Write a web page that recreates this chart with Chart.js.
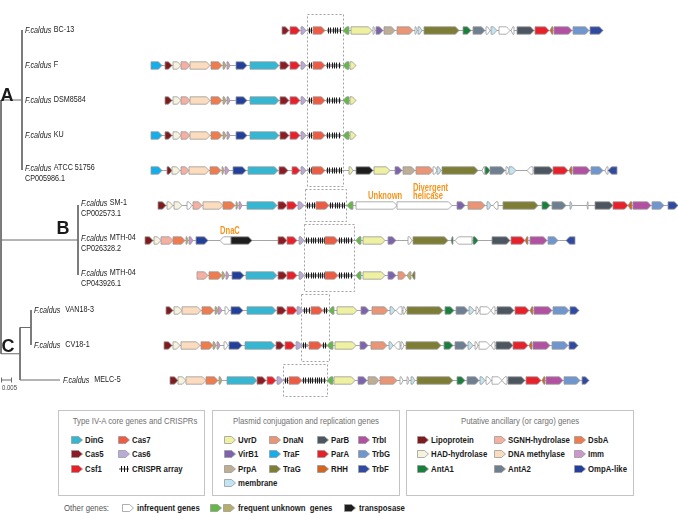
<!DOCTYPE html>
<html lang="en">
<head>
<meta charset="UTF-8">
<title>Type IV-A CRISPR loci in F. caldus</title>
<script src="https://cdn.jsdelivr.net/npm/chart.js"></script>
<style>
  body { margin: 0; background: #fff; font-family: 'Liberation Sans', Arial, sans-serif; }
  #wrap { position: relative; width: 678px; height: 514px; overflow: hidden; }
  #loci { position: absolute; left: 0; top: 0; }
  .lbox { position: absolute; top: 410px; height: 86px; border: 1px solid #c4c4c4; box-sizing: border-box; background: #fff; }
  .ltitle { position: absolute; top: 4px; left: 0; right: 0; text-align: center; font-size: 9.5px; color: #707070; white-space: nowrap; }
  .ltitle span { display: inline-block; transform: scaleX(0.82); transform-origin: center; }
  .item { position: absolute; height: 10px; line-height: 10px; font-size: 9.5px; font-weight: bold; color: #1b1b1b; white-space: nowrap; }
  .item svg { position: absolute; left: 0; top: 1px; }
  .nar { position: absolute; top: 0; display: inline-block; transform: scaleX(0.82); transform-origin: left center; white-space: nowrap; }
  .item .nar { left: 14px; }
  .other { position: absolute; top: 503px; height: 10px; line-height: 10px; font-size: 9.5px; white-space: nowrap; }
</style>
</head>
<body>
<div id="wrap">
  <canvas id="loci" width="678" height="400"></canvas>
  <div id="legend"></div>
</div>

<script>
  // tree leaves (top to bottom)
  const strains = ['BC-13', 'F', 'DSM8584', 'KU', 'ATCC 51756', 'SM-1', 'MTH-04', 'MTH-04', 'VAN18-3', 'CV18-1', 'MELC-5'];
  const accessions = ['', '', '', '', 'CP005986.1', 'CP002573.1', 'CP026328.2', 'CP043926.1', '', '', ''];
  const leafClade = ['A', 'A', 'A', 'A', 'A', 'B', 'B', 'B', 'C1', 'C1', 'C'];
  const leafDepth = [0.0105, 0.0105, 0.0105, 0.0105, 0.0105, 0.0385, 0.0385, 0.0385, 0.015, 0.015, 0.0295];

  // internal nodes
  const cladeIds = ['root', 'A', 'B', 'C', 'C1'];
  const cladeParent = [null, 'root', 'root', 'root', 'C'];
  const cladeDepth = [0, 0.0105, 0.0385, 0.0095, 0.015];
  const cladeLetters = ['', 'A', 'B', 'C', ''];
  const scaleBar = 0.005;

  // loci: [start kb, end kb, gene type, strand]
  const genesBC13 = [[28.2,28.9,'cas5'],[29.0,30.0,'csf1'],[30.1,30.6,'cas6'],[30.8,31.2,'crispr'],[31.3,32.5,'cas7'],[32.7,34.1,'crispr'],[34.3,34.9,'fuG',-1],[35.1,37.2,'uvrD'],[37.3,37.5,'inf'],[37.6,38.3,'virB1'],[38.4,39.5,'prpA'],[39.7,41.3,'dnaN'],[41.5,41.7,'inf'],[41.8,42.2,'mem'],[42.4,45.9,'traG'],[46.3,47.1,'antA1'],[47.3,48.5,'antA2'],[48.6,49.0,'inf'],[49.1,49.7,'mem'],[49.9,51.0,'inf'],[51.1,51.4,'inf',-1],[51.7,53.4,'parB'],[53.5,54.9,'parA'],[55.0,55.3,'rhh',-1],[55.4,57.2,'trbI'],[57.3,58.9,'trbG'],[59.0,60.3,'trbF']];
  const genesF = [[15.1,16.2,'traF'],[16.5,17.2,'lipo'],[17.3,18.1,'had'],[18.1,19.0,'sgnh'],[19.0,21.0,'dnaMet'],[21.1,22.2,'dsbA'],[22.3,22.6,'fuT'],[22.7,23.0,'imm'],[23.6,24.7,'ompA'],[25.0,27.9,'dinG'],[28.0,28.9,'cas5'],[29.0,30.0,'csf1'],[30.1,30.6,'cas6'],[30.8,31.2,'crispr'],[31.3,32.5,'cas7'],[32.6,34.1,'crispr'],[34.3,34.9,'fuG',-1],[35.0,35.6,'uvrD']];
  const genesDSM8584 = [[16.5,17.2,'lipo'],[17.3,18.1,'had'],[18.1,19.0,'sgnh'],[19.0,21.0,'dnaMet'],[21.1,22.2,'dsbA'],[22.3,22.6,'fuT'],[22.7,23.0,'imm'],[23.6,24.7,'ompA'],[25.0,27.9,'dinG'],[28.0,28.9,'cas5'],[29.0,30.0,'csf1'],[30.1,30.6,'cas6'],[30.8,31.2,'crispr'],[31.3,32.5,'cas7'],[32.6,34.1,'crispr'],[34.3,34.9,'fuG',-1],[35.0,35.6,'uvrD']];
  const genesKU = [[15.1,16.2,'traF'],[16.5,17.2,'lipo'],[17.3,18.1,'had'],[18.1,19.0,'sgnh'],[19.0,21.0,'dnaMet'],[21.1,22.2,'dsbA'],[22.3,22.6,'fuT'],[22.7,23.0,'imm'],[23.6,24.7,'ompA'],[25.0,27.9,'dinG'],[28.0,28.9,'cas5'],[29.0,30.0,'csf1'],[30.1,30.6,'cas6'],[30.8,31.2,'crispr'],[31.3,32.5,'cas7'],[32.6,34.1,'crispr'],[34.3,34.9,'fuG',-1],[35.0,35.6,'uvrD']];
  const genesATCC = [[15.1,16.2,'traF'],[16.7,17.2,'lipo'],[17.2,18.0,'had'],[18.1,18.9,'sgnh'],[18.9,20.9,'dnaMet'],[21.0,22.1,'dsbA'],[22.2,22.4,'fuT'],[22.5,22.9,'imm'],[23.3,24.6,'ompA'],[24.8,27.8,'dinG'],[27.9,28.8,'cas5'],[29.2,30.0,'csf1'],[30.1,30.6,'cas6'],[30.8,31.2,'crispr'],[31.2,32.5,'cas7'],[32.6,34.2,'crispr'],[34.9,35.3,'uvrD'],[35.6,37.3,'trans'],[37.4,39.0,'uvrD'],[39.5,40.2,'virB1'],[40.3,41.5,'prpA'],[41.6,43.3,'dnaN'],[43.3,43.7,'inf'],[43.7,44.1,'mem'],[44.2,47.8,'traG'],[48.2,48.5,'inf',-1],[48.5,49.0,'antA1'],[49.0,50.5,'antA2'],[50.6,50.9,'inf'],[50.9,51.6,'mem'],[52.7,53.3,'inf',-1],[53.4,55.3,'parB'],[55.3,56.8,'parA'],[56.9,57.2,'rhh',-1],[57.3,59.0,'trbI'],[59.1,60.3,'trbG'],[60.5,60.8,'inf',-1],[60.8,61.7,'trbF',-1]];
  const genesSM1 = [[15.8,16.6,'lipo'],[16.7,17.3,'had'],[17.4,18.2,'had'],[18.7,19.2,'inf'],[19.3,20.2,'sgnh'],[20.3,22.3,'dnaMet'],[22.3,23.5,'dsbA'],[23.6,23.8,'fuT'],[23.9,24.2,'imm'],[24.7,27.7,'dinG'],[27.8,28.7,'cas5'],[28.7,29.7,'csf1'],[29.8,30.4,'cas6'],[30.6,31.6,'crispr'],[31.6,32.9,'cas7'],[32.9,34.5,'crispr'],[34.7,35.3,'fuG',-1],[35.6,39.7,'inf'],[39.7,45.2,'inf'],[45.7,46.5,'virB1'],[46.8,48.5,'dnaN'],[48.7,49.1,'mem'],[49.3,49.8,'inf',-1],[50.3,53.8,'traG'],[54.2,55.0,'antA1'],[55.2,56.6,'antA2'],[57.0,57.2,'mem'],[58.7,58.8,'inf',-1],[59.5,61.3,'parB'],[61.3,62.8,'parA'],[62.8,63.2,'rhh',-1],[63.3,65.1,'trbI'],[65.2,66.4,'trbG'],[66.8,67.8,'trbF']];
  const genesMTH04a = [[14.5,15.3,'lipo'],[15.4,16.1,'had'],[16.1,17.3,'sgnh'],[17.3,18.5,'dsbA'],[18.6,18.8,'fuT'],[18.9,19.3,'imm'],[19.6,20.8,'ompA'],[22.0,23.1,'inf',-1],[23.1,25.2,'trans'],[27.8,28.7,'cas5'],[28.7,29.7,'csf1'],[29.9,30.4,'cas6'],[30.5,32.5,'crispr'],[32.5,33.8,'cas7'],[33.8,35.3,'crispr'],[35.6,36.1,'fuG',-1],[36.3,38.5,'uvrD'],[38.8,39.6,'virB1'],[40.8,41.2,'inf'],[41.3,44.8,'traG'],[45.1,45.3,'antA1',-1],[45.5,47.2,'inf',-1],[47.3,47.8,'antA1'],[49.2,51.0,'parB'],[51.1,52.5,'parA'],[52.5,52.8,'rhh',-1],[53.0,54.7,'trbI'],[54.8,55.8,'trbG'],[56.6,57.5,'trbF',-1]];
  const genesMTH04b = [[19.7,20.8,'sgnh'],[20.9,22.2,'dsbA'],[22.2,22.5,'fuT'],[22.6,22.9,'imm'],[23.2,24.4,'ompA'],[24.6,27.7,'dinG'],[27.8,28.7,'cas5'],[28.7,29.7,'csf1'],[29.9,30.4,'cas6'],[30.5,32.5,'crispr'],[32.5,33.8,'cas7'],[33.8,35.3,'crispr'],[35.6,36.1,'fuG',-1],[36.3,38.5,'uvrD'],[38.8,39.6,'virB1'],[39.8,40.6,'dnaN'],[40.7,41.1,'fuT',-1],[41.2,41.5,'traG',-1]];
  const genesVAN183 = [[16.6,17.3,'lipo'],[17.4,18.2,'had'],[18.2,20.1,'dnaMet'],[20.2,21.4,'dsbA'],[21.5,21.8,'fuT'],[21.8,22.2,'imm'],[22.5,22.9,'inf'],[23.1,24.3,'ompA'],[24.7,27.6,'dinG'],[27.7,28.6,'cas5'],[28.7,29.7,'csf1'],[29.7,30.3,'cas6'],[30.3,31.0,'crispr'],[31.1,32.3,'cas7'],[32.3,32.8,'crispr'],[32.9,33.4,'fuG',-1],[33.7,35.7,'uvrD'],[36.1,36.9,'virB1'],[37.2,38.8,'dnaN'],[39.0,39.5,'mem'],[39.6,40.2,'inf',-1],[40.3,40.6,'inf'],[40.7,44.3,'traG'],[44.5,45.4,'antA1'],[45.6,46.8,'antA2'],[46.9,47.4,'mem'],[47.6,47.9,'inf'],[48.0,49.1,'inf'],[49.1,49.5,'inf',-1],[49.7,51.4,'parB'],[51.5,52.9,'parA'],[53.0,53.3,'rhh',-1],[53.4,55.2,'trbI'],[55.3,56.9,'trbG'],[57.0,57.9,'trbF']];
  const genesCV181 = [[16.4,17.2,'lipo'],[17.3,18.0,'had'],[18.1,20.0,'dnaMet'],[20.1,21.3,'dsbA'],[21.3,21.6,'fuT'],[21.7,22.0,'imm'],[22.4,22.8,'inf'],[22.9,24.2,'ompA'],[24.5,27.5,'dinG'],[27.6,28.4,'cas5'],[28.5,29.5,'csf1'],[29.6,30.2,'cas6'],[30.2,30.8,'crispr'],[30.9,32.2,'cas7'],[32.2,32.7,'crispr'],[32.7,33.3,'fuG',-1],[33.5,35.6,'uvrD'],[36.0,36.8,'virB1'],[37.1,38.7,'dnaN'],[38.9,39.3,'mem'],[39.4,40.0,'inf',-1],[40.1,40.4,'inf'],[40.6,44.1,'traG'],[44.4,45.3,'antA1'],[45.5,46.7,'antA2'],[46.8,47.3,'mem'],[47.5,47.8,'inf'],[47.9,49.0,'inf'],[49.1,49.5,'inf',-1],[49.6,51.3,'parB'],[51.3,52.8,'parA'],[52.9,53.2,'rhh',-1],[53.3,55.0,'trbI'],[55.2,56.8,'trbG'],[56.9,57.8,'trbF']];
  const genesMELC5 = [[17.0,17.8,'lipo'],[17.8,18.6,'had'],[18.6,20.6,'dnaMet'],[20.6,21.8,'dsbA'],[21.9,22.2,'fuT'],[22.7,25.7,'dinG'],[25.7,26.6,'cas5'],[26.7,27.6,'csf1'],[27.7,28.3,'cas6'],[28.4,28.8,'crispr'],[28.9,30.2,'cas7'],[30.2,32.6,'crispr'],[32.7,33.3,'fuG',-1],[33.4,35.5,'uvrD'],[35.8,36.7,'virB1'],[36.8,37.9,'prpA'],[38.0,39.7,'dnaN'],[40.0,40.3,'inf'],[40.7,40.9,'inf'],[41.1,41.5,'mem'],[41.7,45.3,'traG'],[45.7,46.5,'antA1'],[46.7,47.9,'antA2'],[48.0,48.5,'mem'],[48.6,49.1,'inf'],[49.2,50.2,'inf'],[50.2,50.7,'inf',-1],[50.8,52.5,'parB'],[52.6,54.1,'parA'],[54.2,54.5,'rhh',-1],[54.6,56.3,'trbI'],[56.4,58.0,'trbG'],[58.2,58.9,'trbF']];
  const loci = [genesBC13, genesF, genesDSM8584, genesKU, genesATCC, genesSM1, genesMTH04a, genesMTH04b, genesVAN183, genesCV181, genesMELC5];

  // rows boxed together around the CRISPR region
  const crisprGroups = [[0, 4], [5, 5], [6, 7], [8, 9], [10, 10]];

  // orange notes above genes
  const noteText = ['DnaC', 'Unknown', 'Divergent', 'helicase'];
  const noteRow = [6, 5, 5, 5];
  const noteKb = [22.0, 36.8, 41.3, 41.3];
  const noteLine = [0, 0, 1, 0];

  const geneColors = {
    dinG: '#35b6d2', cas5: '#8c1c24', csf1: '#e8202a', cas7: '#ee5b43', cas6: '#b9abd8',
    uvrD: '#eef0a2', virB1: '#7d62ad', prpA: '#bfae96', mem: '#c2e4f3', dnaN: '#ea9676',
    traF: '#14aeea', traG: '#7d7d35', parB: '#4b5661', parA: '#e8202a', rhh: '#d0661f',
    trbI: '#b250a2', trbG: '#7096cf', trbF: '#2f4aa0',
    lipo: '#7f1b1d', sgnh: '#f5b0a2', dsbA: '#ef7c4e', had: '#f5f2dd', dnaMet: '#fcdcbe',
    imm: '#cb98cb', antA1: '#1a7f3d', antA2: '#6e7f91', ompA: '#22409a',
    fuG: '#64b846', fuT: '#b8ae6c', trans: '#1e1e1e', inf: '#ffffff'
  };
  const geneNames = {
    dinG: 'DinG', cas5: 'Cas5', csf1: 'Csf1', cas7: 'Cas7', cas6: 'Cas6', crispr: 'CRISPR array',
    uvrD: 'UvrD', virB1: 'VirB1', prpA: 'PrpA', mem: 'membrane', dnaN: 'DnaN', traF: 'TraF', traG: 'TraG',
    parB: 'ParB', parA: 'ParA', rhh: 'RHH', trbI: 'TrbI', trbG: 'TrbG', trbF: 'TrbF',
    lipo: 'Lipoprotein', had: 'HAD-hydrolase', antA1: 'AntA1', sgnh: 'SGNH-hydrolase', dnaMet: 'DNA methylase',
    antA2: 'AntA2', dsbA: 'DsbA', imm: 'Imm', ompA: 'OmpA-like'
  };

  // ---- tree geometry from the node arrays
  function childYs(id) {
    const ys = [];
    strains.forEach((s, i) => { if (leafClade[i] === id) ys.push(i); });
    cladeIds.forEach((c, j) => { if (cladeParent[j] === id) ys.push(nodeY(c)); });
    return ys;
  }
  function nodeY(id) {
    const ys = childYs(id);
    return ys.reduce((a, b) => a + b, 0) / ys.length;
  }
  const depthOf = id => cladeDepth[cladeIds.indexOf(id)];

  const treeLines = [];
  cladeIds.forEach((id, j) => {
    const ys = childYs(id);
    treeLines.push([{ x: cladeDepth[j], y: Math.min(...ys) }, { x: cladeDepth[j], y: Math.max(...ys) }]);
    if (cladeParent[j]) {
      const y = nodeY(id);
      treeLines.push([{ x: depthOf(cladeParent[j]), y }, { x: cladeDepth[j], y }]);
    }
  });
  strains.forEach((s, i) => {
    const pd = depthOf(leafClade[i]);
    if (leafDepth[i] > pd) treeLines.push([{ x: pd, y: i }, { x: leafDepth[i], y: i }]);
  });
  treeLines.push([{ x: 0, y: strains.length - 1 }, { x: scaleBar, y: strains.length - 1 }]);

  // narrow text: the figure uses a condensed face
  function narrow(ctx, text, x, y, sx) {
    ctx.save();
    ctx.translate(x, y);
    ctx.scale(sx, 1);
    ctx.fillText(text, 0, 0);
    ctx.restore();
    return ctx.measureText(text).width * sx;
  }

  // ---- gene arrows
  function drawGene(ctx, x0, x1, yc, type, dir) {
    if (type === 'crispr') {
      ctx.fillStyle = '#a3a3a3';
      ctx.fillRect(x0, yc - 1.6, x1 - x0, 3.2);
      ctx.strokeStyle = '#1c1c1c';
      ctx.lineWidth = 1;
      ctx.beginPath();
      for (let x = x0 + 1; x < x1 - 0.5; x += 2.3) {
        ctx.moveTo(Math.round(x) + 0.5, yc - 3);
        ctx.lineTo(Math.round(x) + 0.5, yc + 3);
      }
      ctx.stroke();
      return;
    }
    const h = 3.7;
    const head = Math.min(3.6, (x1 - x0) * 0.6);
    ctx.beginPath();
    if (dir === -1) {
      ctx.moveTo(x1, yc - h); ctx.lineTo(x0 + head, yc - h); ctx.lineTo(x0, yc);
      ctx.lineTo(x0 + head, yc + h); ctx.lineTo(x1, yc + h);
    } else {
      ctx.moveTo(x0, yc - h); ctx.lineTo(x1 - head, yc - h); ctx.lineTo(x1, yc);
      ctx.lineTo(x1 - head, yc + h); ctx.lineTo(x0, yc + h);
    }
    ctx.closePath();
    ctx.fillStyle = geneColors[type];
    ctx.fill();
    ctx.strokeStyle = '#9a9a9a';
    ctx.lineWidth = 0.8;
    ctx.stroke();
  }

  const lociPlugin = {
    id: 'loci',
    beforeDatasetsDraw(chart) {
      const { ctx, scales: { x, y } } = chart;
      ctx.save();
      ctx.setLineDash([2, 2]);
      ctx.strokeStyle = '#a0a0a0';
      ctx.lineWidth = 1;
      crisprGroups.forEach(([a, b]) => {
        let lo = Infinity, hi = -Infinity;
        for (let r = a; r <= b; r++) {
          loci[r].forEach(g => {
            if (g[2] === 'crispr' || g[2] === 'cas7') { lo = Math.min(lo, g[0]); hi = Math.max(hi, g[1]); }
          });
        }
        const x0 = Math.round(x.getPixelForValue(lo - 0.12)) + 0.5;
        const x1 = Math.round(x.getPixelForValue(hi + 0.12)) + 0.5;
        const y0 = Math.round(y.getPixelForValue(a - 0.45)) + 0.5;
        const y1 = Math.round(y.getPixelForValue(b + 0.45)) + 0.5;
        ctx.strokeRect(x0, y0, x1 - x0, y1 - y0);
      });
      ctx.restore();
    },
    afterDatasetsDraw(chart) {
      const { ctx, scales: { x, y, xt } } = chart;
      ctx.save();

      // loci rows
      loci.forEach((genes, r) => {
        const yc = Math.round(y.getPixelForValue(r)) + 0.5;
        const lo = Math.min(...genes.map(g => g[0]));
        const hi = Math.max(...genes.map(g => g[1]));
        ctx.strokeStyle = '#a5a5a5';
        ctx.lineWidth = 1;
        ctx.beginPath();
        ctx.moveTo(x.getPixelForValue(lo), yc);
        ctx.lineTo(x.getPixelForValue(hi), yc);
        ctx.stroke();
        genes.forEach(g => drawGene(ctx, x.getPixelForValue(g[0]), x.getPixelForValue(g[1]), yc, g[2], g[3] || 1));
      });

      // strain labels
      ctx.fillStyle = '#222';
      ctx.textBaseline = 'middle';
      ctx.textAlign = 'left';
      strains.forEach((name, i) => {
        const lx = xt.getPixelForValue(leafDepth[i]) + 3;
        const two = accessions[i] !== '';
        const ly = y.getPixelForValue(i) + (two ? -2 : 0);
        const gap = leafClade[i] === 'A' || leafClade[i] === 'B' ? 2.5 : 5;
        ctx.font = 'italic 9px "Liberation Sans", Arial, sans-serif';
        const w = narrow(ctx, 'F.caldus', lx, ly, 0.8);
        ctx.font = '9px "Liberation Sans", Arial, sans-serif';
        narrow(ctx, name, lx + w + gap, ly, 0.8);
        if (two) narrow(ctx, accessions[i], lx, ly + 11, 0.8);
      });

      // clade letters
      const letterShift = { A: [-15, -4], B: [-15, -11], C: [-12, -7] };
      ctx.font = 'bold 18px "Liberation Sans", Arial, sans-serif';
      ctx.textAlign = 'center';
      ctx.fillStyle = '#1a1a1a';
      cladeIds.forEach((id, j) => {
        if (!cladeLetters[j]) return;
        const s = letterShift[cladeLetters[j]];
        ctx.fillText(cladeLetters[j], xt.getPixelForValue(cladeDepth[j]) + s[0], y.getPixelForValue(nodeY(id)) + s[1]);
      });

      // scale bar end ticks and label
      const sy = y.getPixelForValue(strains.length - 1);
      const sx0 = xt.getPixelForValue(0), sx1 = xt.getPixelForValue(scaleBar);
      ctx.strokeStyle = '#6a6a6a';
      ctx.lineWidth = 1;
      ctx.beginPath();
      ctx.moveTo(Math.round(sx0) + 0.5, sy - 2.5); ctx.lineTo(Math.round(sx0) + 0.5, sy + 2.5);
      ctx.moveTo(Math.round(sx1) + 0.5, sy - 2.5); ctx.lineTo(Math.round(sx1) + 0.5, sy + 2.5);
      ctx.stroke();
      ctx.font = '7.5px "Liberation Sans", Arial, sans-serif';
      ctx.fillStyle = '#444';
      ctx.textAlign = 'left';
      narrow(ctx, String(scaleBar), sx0 + 1, sy + 8, 0.8);

      // orange notes
      ctx.font = 'bold 10px "Liberation Sans", Arial, sans-serif';
      ctx.fillStyle = '#f7941d';
      noteText.forEach((t, k) => {
        narrow(ctx, t, x.getPixelForValue(noteKb[k]), y.getPixelForValue(noteRow[k]) - 9 - 8 * noteLine[k], 0.76);
      });
      ctx.restore();
    }
  };

  new Chart(document.getElementById('loci'), {
    type: 'scatter',
    data: {
      datasets: treeLines.map(d => ({
        data: d, showLine: true, borderColor: '#6a6a6a', borderWidth: 1,
        pointRadius: 0, xAxisID: 'xt', yAxisID: 'y'
      }))
    },
    options: {
      responsive: false,
      animation: false,
      events: [],
      layout: { padding: 0, autoPadding: false },
      scales: {
        x: { type: 'linear', min: 0, max: 67.8, display: false },
        xt: { type: 'linear', axis: 'x', min: -0.0005, max: 0.3385, display: false },
        y: { type: 'linear', min: -30 / 35, max: 370 / 35, reverse: true, display: false }
      },
      plugins: { legend: { display: false }, tooltip: { enabled: false } }
    },
    plugins: [lociPlugin]
  });

  // ---- legend boxes
  const legendTitles = ['Type IV-A core genes and CRISPRs', 'Plasmid conjugation and replication genes', 'Putative ancillary (or cargo) genes'];
  const legendCols = [
    [['dinG', 'cas5', 'csf1'], ['cas7', 'cas6', 'crispr']],
    [['uvrD', 'virB1', 'prpA', 'mem'], ['dnaN', 'traF', 'traG'], ['parB', 'parA', 'rhh'], ['trbI', 'trbG', 'trbF']],
    [['lipo', 'had', 'antA1'], ['sgnh', 'dnaMet', 'antA2'], ['dsbA', 'imm', 'ompA']]
  ];
  const otherTypes = [['inf'], ['fuG', 'fuT'], ['trans']];
  const otherNames = ['infrequent genes', 'frequent unknown  genes', 'transposase'];

  function icon(type) {
    if (type === 'crispr') {
      return '<svg width="12" height="8"><line x1="1" y1="4" x2="11" y2="4" stroke="#444"/>' +
        '<g stroke="#111"><line x1="3.5" y1="1" x2="3.5" y2="7"/><line x1="6.5" y1="1" x2="6.5" y2="7"/><line x1="9.5" y1="1" x2="9.5" y2="7"/></g></svg>';
    }
    return '<svg width="12" height="8"><path d="M0.5 0.5H7.5L11.5 4L7.5 7.5H0.5Z" fill="' + geneColors[type] +
      '" stroke="#9a9a9a" stroke-width="0.8"/></svg>';
  }

  const boxLeft = [58, 212, 406], boxWidth = [147, 188, 228];
  const colX = [[12, 59], [11, 56, 104, 145], [10, 87, 167]];
  const rowTop = [24, 38, 53, 67];
  const legend = document.getElementById('legend');
  legendTitles.forEach((title, b) => {
    const box = document.createElement('div');
    box.className = 'lbox';
    box.style.left = boxLeft[b] + 'px';
    box.style.width = boxWidth[b] + 'px';
    box.innerHTML = '<div class="ltitle"><span>' + title + '</span></div>';
    legendCols[b].forEach((col, c) => {
      col.forEach((type, r) => {
        const it = document.createElement('div');
        it.className = 'item';
        it.style.left = colX[b][c] + 'px';
        it.style.top = rowTop[r] + 'px';
        it.innerHTML = icon(type) + '<span class="nar">' + geneNames[type] + '</span>';
        box.appendChild(it);
      });
    });
    legend.appendChild(box);
  });

  const lead = document.createElement('div');
  lead.className = 'other';
  lead.style.left = '64px';
  lead.style.color = '#555';
  lead.innerHTML = '<span class="nar">Other genes:</span>';
  legend.appendChild(lead);
  const otherX = [122, 210, 344];
  otherTypes.forEach((types, k) => {
    const it = document.createElement('div');
    it.className = 'other';
    it.style.left = otherX[k] + 'px';
    it.style.fontWeight = 'bold';
    it.style.color = '#1b1b1b';
    let html = '';
    types.forEach((t, n) => { html += '<span style="position:absolute;left:' + (n * 13) + 'px;top:1px">' + icon(t) + '</span>'; });
    html += '<span class="nar" style="left:' + (types.length * 13 + 2) + 'px">' + otherNames[k].replace('  ', '&nbsp; ') + '</span>';
    it.innerHTML = html;
    legend.appendChild(it);
  });
</script>
</body>
</html>
